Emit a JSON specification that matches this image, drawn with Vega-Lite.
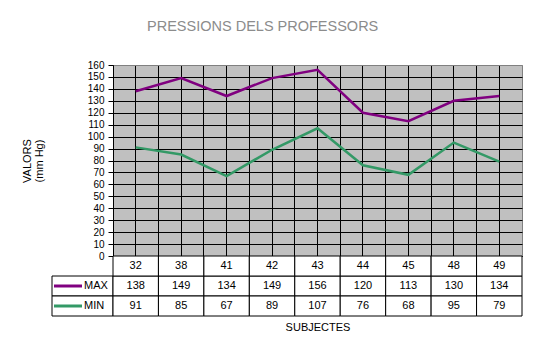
{
  "$schema": "https://vega.github.io/schema/vega-lite/v6.json",
  "autosize": {"type": "pad"},
  "padding": {"left": 20, "top": 19, "right": 5, "bottom": 5},
  "title": {"text": "PRESSIONS DELS PROFESSORS", "anchor": "middle", "fontSize": 14.5, "fontWeight": "normal", "color": "#8c8c8c", "font": "Liberation Sans", "offset": 25, "dx": -9},
  "config": {"view": {"stroke": null}, "font": "Liberation Sans"},
  "datasets": {
    "pres": [
      {"subject": "32", "serie": "MAX", "valor": 138},
      {"subject": "38", "serie": "MAX", "valor": 149},
      {"subject": "41", "serie": "MAX", "valor": 134},
      {"subject": "42", "serie": "MAX", "valor": 149},
      {"subject": "43", "serie": "MAX", "valor": 156},
      {"subject": "44", "serie": "MAX", "valor": 120},
      {"subject": "45", "serie": "MAX", "valor": 113},
      {"subject": "48", "serie": "MAX", "valor": 130},
      {"subject": "49", "serie": "MAX", "valor": 134},
      {"subject": "32", "serie": "MIN", "valor": 91},
      {"subject": "38", "serie": "MIN", "valor": 85},
      {"subject": "41", "serie": "MIN", "valor": 67},
      {"subject": "42", "serie": "MIN", "valor": 89},
      {"subject": "43", "serie": "MIN", "valor": 107},
      {"subject": "44", "serie": "MIN", "valor": 76},
      {"subject": "45", "serie": "MIN", "valor": 68},
      {"subject": "48", "serie": "MIN", "valor": 95},
      {"subject": "49", "serie": "MIN", "valor": 79}
    ]
  },
  "columns": 2,
  "spacing": 0,
  "bounds": "flush",
  "concat": [
    {
      "width": 61, "height": 191,
      "data": {"values": []},
      "mark": "point"
    },
    {
      "width": 409, "height": 191,
      "data": {"name": "pres"},
      "view": {"fill": "#c0c0c0", "stroke": "#808080"},
      "encoding": {
        "y": {"field": "valor", "type": "quantitative",
          "scale": {"domain": [0, 160], "nice": false, "zero": true},
          "axis": {"values": [0,10,20,30,40,50,60,70,80,90,100,110,120,130,140,150,160],
            "title": ["VALORS", "(mm Hg)"], "titleFontSize": 11, "titleFontWeight": "normal", "titleColor": "black", "titlePadding": 43, "titleLineHeight": 12,
            "labelFontSize": 10, "labelColor": "black", "labelPadding": 4,
            "tickSize": 5, "tickColor": "black", "domainColor": "black",
            "grid": true, "gridOpacity": 1,
            "gridColor": {"condition": {"test": "datum.value === 160", "value": "#808080"}, "value": "black"}}}
      },
      "layer": [
        {
          "transform": [{"filter": "datum.serie === 'MIN'"}],
          "mark": {"type": "line", "color": "#339966", "strokeWidth": 2.5},
          "encoding": {
            "x": {"field": "subject", "type": "ordinal",
              "scale": {"type": "band", "paddingInner": 0, "paddingOuter": 0},
              "axis": {"orient": "bottom", "bandPosition": 0, "grid": true, "gridColor": "black", "gridOpacity": 1, "labels": false, "ticks": false, "domain": true, "domainColor": "black", "title": null}}
          }
        },
        {
          "transform": [{"filter": "datum.serie === 'MAX'"}],
          "mark": {"type": "line", "color": "#800080", "strokeWidth": 2.5},
          "encoding": {
            "x": {"field": "subject", "type": "ordinal",
              "scale": {"type": "band", "paddingInner": 0, "paddingOuter": 0},
              "axis": {"orient": "bottom", "bandPosition": 0.5, "grid": true, "gridColor": "black", "gridOpacity": 1, "labels": false, "ticks": false, "domain": false, "title": null}}
          }
        }
      ],
      "resolve": {"axis": {"x": "independent"}}
    },
    {
      "width": 61, "height": 60,
      "data": {"name": "pres"},
      "transform": [{"filter": "datum.subject === '32'"}],
      "encoding": {
        "y": {"field": "serie", "type": "nominal", "scale": {"type": "band", "domain": ["hdr", "MAX", "MIN"], "paddingInner": 0, "paddingOuter": 0}, "axis": null}
      },
      "layer": [
        {"mark": {"type": "rect", "fill": "white", "stroke": "black", "strokeWidth": 1},
         "encoding": {"x": {"value": 0}, "x2": {"value": "width"}}},
        {"mark": {"type": "point", "shape": "M-1,0L1,0", "filled": false, "strokeWidth": 3, "size": 784, "xOffset": -14.5, "opacity": 1},
         "encoding": {"color": {"field": "serie", "type": "nominal", "scale": {"domain": ["MAX", "MIN"], "range": ["#800080", "#339966"]}, "legend": null}}},
        {"mark": {"type": "text", "align": "left", "dx": 1.5, "fontSize": 11, "color": "black"},
         "encoding": {"text": {"field": "serie"}}}
      ]
    },
    {
      "width": 409, "height": 60,
      "data": {"name": "pres"},
      "encoding": {
        "x": {"field": "subject", "type": "ordinal",
          "scale": {"type": "band", "paddingInner": 0, "paddingOuter": 0},
          "axis": {"labels": false, "ticks": false, "domain": false, "grid": false, "title": "SUBJECTES", "titleFontSize": 11, "titleFontWeight": "normal", "titleColor": "black", "titlePadding": 5}}
      },
      "layer": [
        {"mark": {"type": "rect", "fill": "white", "stroke": "black", "strokeWidth": 1},
         "encoding": {"y": {"field": "serie", "type": "nominal", "scale": {"type": "band", "domain": ["hdr", "MAX", "MIN"], "paddingInner": 0, "paddingOuter": 0}, "axis": null}}},
        {"transform": [{"filter": "datum.serie === 'MAX'"}],
         "mark": {"type": "rect", "fill": "white", "stroke": "black", "strokeWidth": 1},
         "encoding": {"y": {"datum": "hdr", "type": "nominal", "axis": null}}},
        {"mark": {"type": "text", "fontSize": 11, "color": "black"},
         "encoding": {"y": {"field": "serie", "type": "nominal", "axis": null}, "text": {"field": "valor"}}},
        {"transform": [{"filter": "datum.serie === 'MAX'"}],
         "mark": {"type": "text", "fontSize": 11, "color": "black"},
         "encoding": {"y": {"datum": "hdr", "type": "nominal", "axis": null}, "text": {"field": "subject"}}}
      ]
    }
  ]
}
